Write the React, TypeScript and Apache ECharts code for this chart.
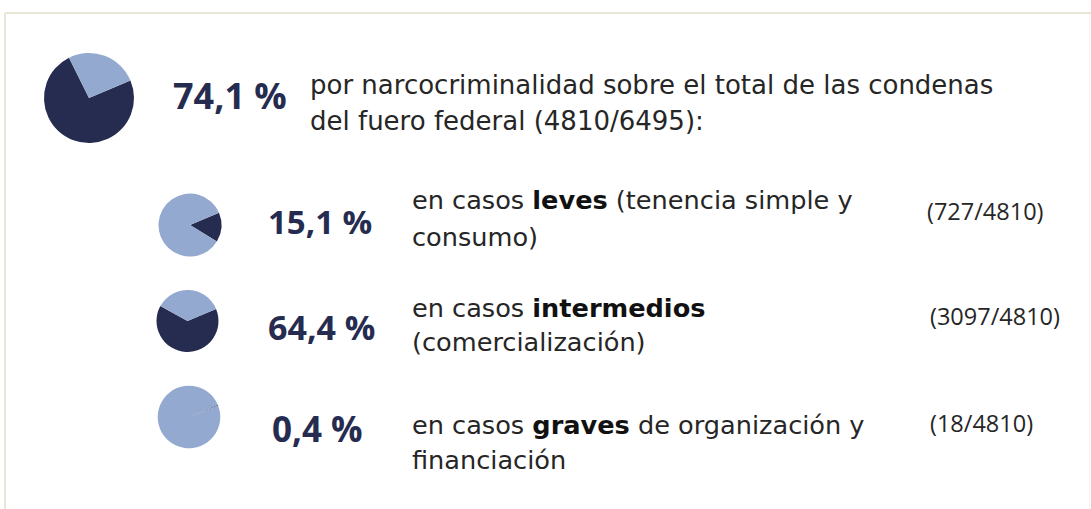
import React, { useEffect, useRef } from "react";
import * as echarts from "echarts";

// ---- data ----
const groupNames = ["total", "leves", "intermedios", "graves"];
const numerators = [4810, 727, 3097, 18];
const denominators = [6495, 4810, 4810, 4810];
const percentLabels = ["74,1 %", "15,1 %", "64,4 %", "0,4 %"];
const ratioLabels = ["(4810/6495)", "(727/4810)", "(3097/4810)", "(18/4810)"];
const headLines = [
  "por narcocriminalidad sobre el total de las condenas",
  "del fuero federal (4810/6495):",
];
const descPre = ["en casos ", "en casos ", "en casos "];
const descBold = ["leves", "intermedios", "graves"];
const descPost = [" (tenencia simple y", "", " de organización y"];
const descLine2 = ["consumo)", "(comercialización)", "financiación"];

// ---- styles / layout ----
const DARK = "#262c50";
const LIGHT = "#94a9cf";
const TEXT = "#262626";
const FONT = "'DejaVu Sans', 'Open Sans', sans-serif";
const FONT_B = "'Open Sans', 'Noto Sans', sans-serif";

const pieCenters: [number, number][] = [
  [89, 98],
  [190, 225],
  [187.5, 321],
  [189, 417],
];
const pieRadii = [45, 31.5, 31, 31.3];
const pctPos: [number, number][] = [
  [173, 95],
  [268, 221],
  [268, 327],
  [272, 428],
];
const pctSizes = [36, 33, 34, 35];
const descY = [
  [200, 237],
  [308, 342],
  [425, 460],
];
const ratioPos: [number, number][] = [
  [927, 211],
  [930, 316],
  [930, 423],
];

export default function App() {
  const ref = useRef<HTMLDivElement>(null);
  useEffect(() => {
    if (!ref.current) return;
    const chart = echarts.init(ref.current, null, { renderer: "svg" });

    const series = groupNames.map((name, i) => ({
      type: "pie" as const,
      name,
      center: pieCenters[i],
      radius: pieRadii[i],
      startAngle: 23,
      clockwise: true,
      silent: true,
      label: { show: false },
      labelLine: { show: false },
      itemStyle: { borderWidth: 0 },
      emphasis: { disabled: true },
      data: [
        { name: "dentro", value: numerators[i], itemStyle: { color: DARK } },
        { name: "resto", value: denominators[i] - numerators[i], itemStyle: { color: LIGHT } },
      ],
    }));

    const graphic: any[] = [
      { type: "line", shape: { x1: 5, y1: 13, x2: 1091, y2: 13 }, style: { stroke: "#e9e6d8", lineWidth: 2 }, z: -1 },
      { type: "line", shape: { x1: 5, y1: 13, x2: 5, y2: 509 }, style: { stroke: "#e9e6d8", lineWidth: 2 }, z: -1 },
      { type: "line", shape: { x1: 1089.5, y1: 14, x2: 1089.5, y2: 509 }, style: { stroke: "#f2f2f2", lineWidth: 1 }, z: -1 },
    ];

    percentLabels.forEach((t, i) => {
      graphic.push({
        type: "text",
        x: pctPos[i][0],
        y: pctPos[i][1],
        style: {
          text: t,
          fill: DARK,
          font: `bold ${pctSizes[i]}px ${FONT_B}`,
          verticalAlign: "middle",
        },
      });
    });

    headLines.forEach((t, j) => {
      graphic.push({
        type: "text",
        x: 310,
        y: j === 0 ? 85 : 121,
        style: { text: t, fill: TEXT, font: `26px ${FONT}`, verticalAlign: "middle" },
      });
    });

    descBold.forEach((b, k) => {
      graphic.push({
        type: "text",
        x: 412,
        y: descY[k][0],
        style: {
          text: `{r|${descPre[k]}}{b|${b}}{r|${descPost[k]}}`,
          verticalAlign: "middle",
          rich: {
            r: { fill: TEXT, fontSize: 25.6, fontFamily: FONT },
            b: { fill: "#111111", fontSize: 25.6, fontFamily: FONT, fontWeight: "bold" },
          },
        },
      });
      graphic.push({
        type: "text",
        x: 412,
        y: descY[k][1],
        style: { text: descLine2[k], fill: TEXT, font: `25.6px ${FONT}`, verticalAlign: "middle" },
      });
      graphic.push({
        type: "text",
        x: ratioPos[k][0],
        y: ratioPos[k][1],
        style: { text: ratioLabels[k + 1], fill: TEXT, font: `23.5px ${FONT_B}`, verticalAlign: "middle" },
      });
    });

    chart.setOption({
      animation: false,
      backgroundColor: "#ffffff",
      series,
      graphic,
    });
    return () => chart.dispose();
  }, []);
  return (
    <div
      ref={ref}
      style={{ position: "fixed", left: 0, top: 0, width: 1091, height: 509 }}
    />
  );
}
